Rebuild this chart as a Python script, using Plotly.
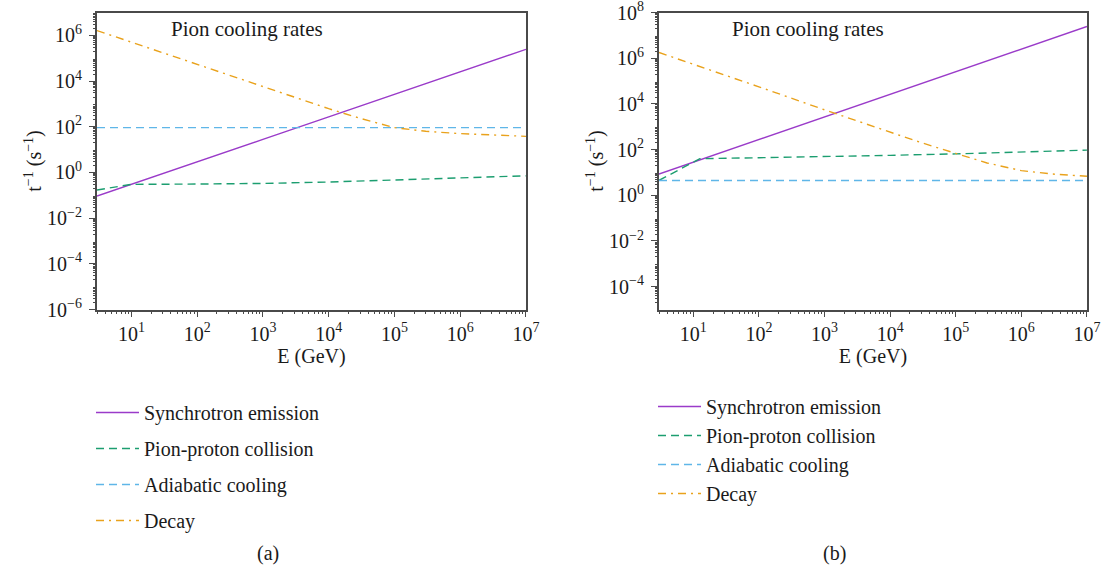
import plotly.graph_objects as go

# ---------------- data ----------------
energy_grid = [3, 10, 1e2, 1e3, 1e4, 1e5, 1e6, 1e7]
energy_decay = [3, 10, 1e2, 1e3, 1e4, 3e4, 1e5, 3e5, 1e6, 3e6, 1e7]
energy_pp_b = [3, 12.6, 1e2, 1e3, 1e4, 1e5, 1e6, 1e7]
energy_ends = [3, 1e7]

sync_a = [0.093, 0.30, 2.95, 28, 270, 2630, 2.5e4, 2.45e5]
pp_a = [0.17, 0.30, 0.31, 0.33, 0.38, 0.47, 0.58, 0.71]
adiab_a = [91, 91]
decay_a = [1.62e6, 5.0e5, 5.4e4, 5.75e3, 617, 234, 91, 63, 50, 44, 38]

sync_b = [8.5, 28, 275, 2.7e3, 2.6e4, 2.6e5, 2.5e6, 2.45e7]
pp_b = [4.5, 40, 44, 48, 56, 65, 78, 95]
adiab_b = [4.4, 4.4]
decay_b = [1.78e6, 5.5e5, 5.6e4, 5.5e3, 590, 200, 68, 26, 12, 8.5, 6.8]

series_names = ["Synchrotron emission", "Pion-proton collision", "Adiabatic cooling", "Decay"]
panel_titles = ["Pion cooling rates", "Pion cooling rates"]
captions = ["(a)", "(b)"]

x_exponents = [1, 2, 3, 4, 5, 6, 7]
y_exponents_a = [-6, -4, -2, 0, 2, 4, 6]
y_exponents_b = [-4, -2, 0, 2, 4, 6, 8]

# ---------------- styles ----------------
FONT = "Liberation Serif"
TXT = "#1a1a1a"
colors = ["#9a3bc9", "#1c9e70", "#5fb6e8", "#e9a21c"]
dashes = ["solid", "8px,5px", "8px,5px", "8px,5px,2px,5px"]
axis_col = "#4a4a4a"

X_RANGE = [0.4771, 7.0005]
YA_RANGE = [-6, 7.0005]
YB_RANGE = [-5, 8.0005]


def pow_label(e):
    return "10<sup>" + (str(e) if e >= 0 else "−" + str(-e)) + "</sup>"


def minor_vals(lo, hi):
    vals = []
    for e in range(lo, hi + 1):
        for m in range(2, 10):
            vals.append(m * 10.0 ** e)
    return vals


fig = go.Figure()

panels = [
    dict(xs=[energy_grid, energy_grid, energy_ends, energy_decay],
         ys=[sync_a, pp_a, adiab_a, decay_a], xa="x", ya="y", legend="legend"),
    dict(xs=[energy_grid, energy_pp_b, energy_ends, energy_decay],
         ys=[sync_b, pp_b, adiab_b, decay_b], xa="x2", ya="y2", legend="legend2"),
]

for p_i, p in enumerate(panels):
    for i in range(4):
        fig.add_trace(go.Scatter(
            x=p["xs"][i], y=p["ys"][i], mode="lines", name=series_names[i],
            line=dict(color=colors[i], dash=dashes[i], width=1.4),
            xaxis=p["xa"], yaxis=p["ya"], legend=p["legend"],
            legendgroup=f"p{p_i}_{i}", showlegend=True,
        ))

# empty carrier traces so that the minor-tick overlay axes get rendered
for xa, ya in [("x3", "y3"), ("x4", "y4")]:
    fig.add_trace(go.Scatter(x=[], y=[], mode="lines", xaxis=xa, yaxis=ya,
                             showlegend=False, hoverinfo="skip"))


def xaxis_style(domain, anchor):
    return dict(domain=domain, anchor=anchor, type="log", range=X_RANGE,
                tickmode="array", automargin=False,
                tickvals=[10.0 ** e for e in x_exponents],
                ticktext=[pow_label(e) for e in x_exponents],
                showgrid=False, zeroline=False, ticklabeloverflow="allow",
                showline=True, linecolor=axis_col, linewidth=2, mirror=True,
                ticks="outside", ticklen=5, tickcolor=axis_col, tickwidth=1.2,
                tickfont=dict(family=FONT, size=20, color=TXT),
                title=dict(text="E (GeV)", font=dict(family=FONT, size=20, color=TXT), standoff=0))


def yaxis_style(domain, anchor, rng, exps):
    return dict(domain=domain, anchor=anchor, type="log", range=rng,
                tickmode="array", automargin=False,
                tickvals=[10.0 ** e for e in exps],
                ticktext=[pow_label(e) for e in exps],
                showgrid=False, zeroline=False, ticklabeloverflow="allow",
                ticklabelstandoff=3,
                showline=True, linecolor=axis_col, linewidth=2, mirror=True,
                ticks="outside", ticklen=6, tickcolor=axis_col, tickwidth=1.2,
                tickfont=dict(family=FONT, size=20, color=TXT),
                title=dict(text="t<sup>−1</sup> (s<sup>−1</sup>)",
                           font=dict(family=FONT, size=20, color=TXT), standoff=0))


def minor_x(overlay, anchor, domain):
    return dict(overlaying=overlay, anchor=anchor, domain=domain, type="log", range=X_RANGE,
                tickmode="array", tickvals=minor_vals(0, 6), showticklabels=False,
                ticks="outside", ticklen=3, tickcolor=axis_col, tickwidth=1,
                showgrid=False, zeroline=False, showline=False, automargin=False)


def minor_y(overlay, anchor, domain, rng):
    return dict(overlaying=overlay, anchor=anchor, domain=domain, type="log", range=rng,
                tickmode="array", tickvals=minor_vals(int(rng[0]) - 1, int(rng[1])),
                showticklabels=False, side="left",
                ticks="outside", ticklen=3, tickcolor=axis_col, tickwidth=1,
                showgrid=False, zeroline=False, showline=False, automargin=False)


ydom = [1 - 309.5 / 569, 1 - 12.5 / 569]
xdom_a = [97 / 1112, 526 / 1112]
xdom_b = [659 / 1112, 1087 / 1112]

fig.update_layout(
    width=1112, height=569,
    paper_bgcolor="white", plot_bgcolor="white",
    margin=dict(l=0, r=0, t=0, b=0),
    xaxis=xaxis_style(xdom_a, "y"),
    yaxis=yaxis_style(ydom, "x", YA_RANGE, y_exponents_a),
    xaxis2=xaxis_style(xdom_b, "y2"),
    yaxis2=yaxis_style(ydom, "x2", YB_RANGE, y_exponents_b),
    xaxis3=minor_x("x", "y3", xdom_a),
    yaxis3=minor_y("y", "x3", ydom, YA_RANGE),
    xaxis4=minor_x("x2", "y4", xdom_b),
    yaxis4=minor_y("y2", "x4", ydom, YB_RANGE),
    legend=dict(x=91 / 1112, y=1 - 393 / 569, xanchor="left", yanchor="top",
                font=dict(family=FONT, size=20, color=TXT), tracegroupgap=7,
                itemwidth=43, bgcolor="rgba(0,0,0,0)"),
    legend2=dict(x=653 / 1112, y=1 - 387 / 569, xanchor="left", yanchor="top",
                 font=dict(family=FONT, size=20, color=TXT), tracegroupgap=0,
                 itemwidth=43, bgcolor="rgba(0,0,0,0)"),
    showlegend=True,
)

annots = []
for x0, t in zip([169, 730], panel_titles):
    annots.append(dict(text=t, x=x0 / 1112, y=1 - 29 / 569, xref="paper", yref="paper",
                       xanchor="left", yanchor="middle", showarrow=False,
                       font=dict(family=FONT, size=21, color=TXT)))
for xc, t in zip([268, 834], captions):
    annots.append(dict(text=t, x=xc / 1112, y=1 - 553 / 569, xref="paper", yref="paper",
                       xanchor="center", yanchor="middle", showarrow=False,
                       font=dict(family=FONT, size=20, color=TXT)))
fig.update_layout(annotations=annots)

fig.write_html("out.html", config={"displayModeBar": False},
               post_script="document.body.style.margin='0';")
